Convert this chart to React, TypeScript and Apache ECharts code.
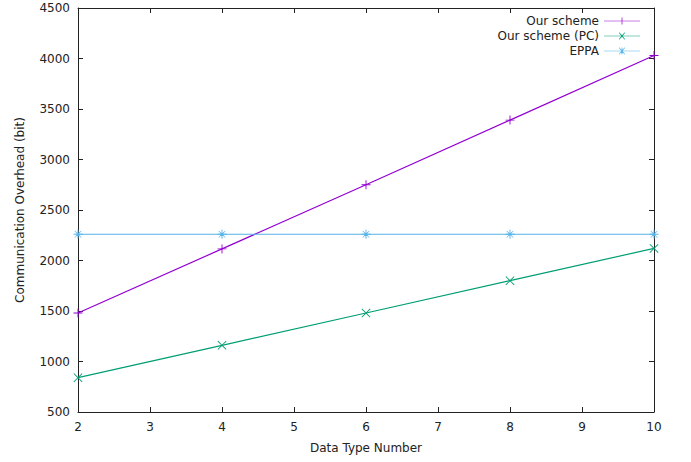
import React, { useEffect, useRef } from "react";
import * as echarts from "echarts";

const xValues = [2, 4, 6, 8, 10];
const seriesNames = ["Our scheme", "Our scheme (PC)", "EPPA"];
const ourScheme = [1480, 2115, 2750, 3390, 4030];
const ourSchemePC = [840, 1160, 1480, 1800, 2120];
const eppa = [2260, 2260, 2260, 2260, 2260];
const colors = ["#9400d3", "#009e73", "#56b4e9"];

const plusSym = "path://M4.5,0 L5.5,0 L5.5,4.5 L10,4.5 L10,5.5 L5.5,5.5 L5.5,10 L4.5,10 L4.5,5.5 L0,5.5 L0,4.5 L4.5,4.5 Z";
const crossSym = "path://M0.7,0 L5,4.3 L9.3,0 L10,0.7 L5.7,5 L10,9.3 L9.3,10 L5,5.7 L0.7,10 L0,9.3 L4.3,5 L0,0.7 Z";
const starSym = "path://M4.5,0 L5.5,0 L5.5,4.5 L10,4.5 L10,5.5 L5.5,5.5 L5.5,10 L4.5,10 L4.5,5.5 L0,5.5 L0,4.5 L4.5,4.5 Z M1.5,1 L5,4.3 L8.5,1 L9,1.5 L5.7,5 L9,8.5 L8.5,9 L5,5.7 L1.5,9 L1,8.5 L4.3,5 L1,1.5 Z";

const legendPlus = "path://M0,4.6 L40,4.6 L40,5.4 L0,5.4 Z M19.6,1 L20.4,1 L20.4,9 L19.6,9 Z M16,4.6 L24,4.6 L24,5.4 L16,5.4 Z";
const legendCross = "path://M0,4.6 L40,4.6 L40,5.4 L0,5.4 Z M16.5,1.5 L17.2,1 L20,4.3 L22.8,1 L23.5,1.5 L20.6,5 L23.5,8.5 L22.8,9 L20,5.7 L17.2,9 L16.5,8.5 L19.4,5 Z";
const legendStar = "path://M0,4.6 L40,4.6 L40,5.4 L0,5.4 Z M19.6,1 L20.4,1 L20.4,9 L19.6,9 Z M16.5,1.5 L17.2,1 L20,4.3 L22.8,1 L23.5,1.5 L20.6,5 L23.5,8.5 L22.8,9 L20,5.7 L17.2,9 L16.5,8.5 L19.4,5 Z";

const symbols = [plusSym, crossSym, starSym];
const legendIcons = [legendPlus, legendCross, legendStar];
const dataSets = [ourScheme, ourSchemePC, eppa];

export default function App() {
  const ref = useRef<HTMLDivElement>(null);
  useEffect(() => {
    if (!ref.current) return;
    const chart = echarts.init(ref.current, null, { renderer: "svg" });
    const font = "DejaVu Sans";
    const axisLineStyle = { color: "#222", width: 1 };
    chart.setOption({
      animation: false,
      textStyle: { fontFamily: font },
      grid: { left: 78, right: 37, top: 8, bottom: 50, containLabel: false },
      legend: {
        orient: "vertical",
        right: 46,
        top: 10,
        align: "right",
        itemWidth: 36,
        itemHeight: 10,
        itemGap: 3,
        textStyle: { fontFamily: font, fontSize: 12, color: "#222", padding: [0, 0, 0, 0] },
        data: seriesNames.map((n, i) => ({ name: n, icon: legendIcons[i], itemStyle: { color: colors[i] } })),
      },
      xAxis: [
        {
          type: "value",
          min: 2,
          max: 10,
          interval: 1,
          name: "Data Type Number",
          nameLocation: "middle",
          nameGap: 30,
          nameTextStyle: { fontFamily: font, fontSize: 12, color: "#222" },
          axisLine: { show: true, lineStyle: axisLineStyle },
          axisTick: { show: true, inside: true, length: 5, lineStyle: axisLineStyle },
          axisLabel: { fontFamily: font, fontSize: 12, color: "#222", margin: 9, formatter: (v: number) => String(v) },
          splitLine: { show: false },
        },
        {
          type: "value",
          position: "top",
          min: 2,
          max: 10,
          interval: 1,
          axisLine: { show: true, lineStyle: axisLineStyle },
          axisTick: { show: true, inside: true, length: 5, lineStyle: axisLineStyle },
          axisLabel: { show: false },
          splitLine: { show: false },
        },
      ],
      yAxis: [
        {
          type: "value",
          min: 500,
          max: 4500,
          interval: 500,
          name: "Communication Overhead (bit)",
          nameLocation: "middle",
          nameGap: 52,
          nameTextStyle: { fontFamily: font, fontSize: 12, color: "#222" },
          axisLine: { show: true, lineStyle: axisLineStyle },
          axisTick: { show: true, inside: true, length: 5, lineStyle: axisLineStyle },
          axisLabel: { fontFamily: font, fontSize: 12, color: "#222", margin: 8, formatter: (v: number) => String(v) },
          splitLine: { show: false },
        },
        {
          type: "value",
          position: "right",
          min: 500,
          max: 4500,
          interval: 500,
          axisLine: { show: true, lineStyle: axisLineStyle },
          axisTick: { show: true, inside: true, length: 5, lineStyle: axisLineStyle },
          axisLabel: { show: false },
          splitLine: { show: false },
        },
      ],
      series: seriesNames.map((n, i) => ({
        name: n,
        type: "line",
        xAxisIndex: 0,
        yAxisIndex: 0,
        data: xValues.map((x, j) => [x, dataSets[i][j]]),
        symbol: symbols[i],
        symbolSize: 9,
        showAllSymbol: true,
        lineStyle: { color: colors[i], width: 1.2 },
        itemStyle: { color: colors[i] },
        emphasis: { disabled: true },
      })),
    });
    return () => chart.dispose();
  }, []);
  return <div ref={ref} style={{ position: "absolute", left: 0, top: 0, width: 691, height: 462 }} />;
}
